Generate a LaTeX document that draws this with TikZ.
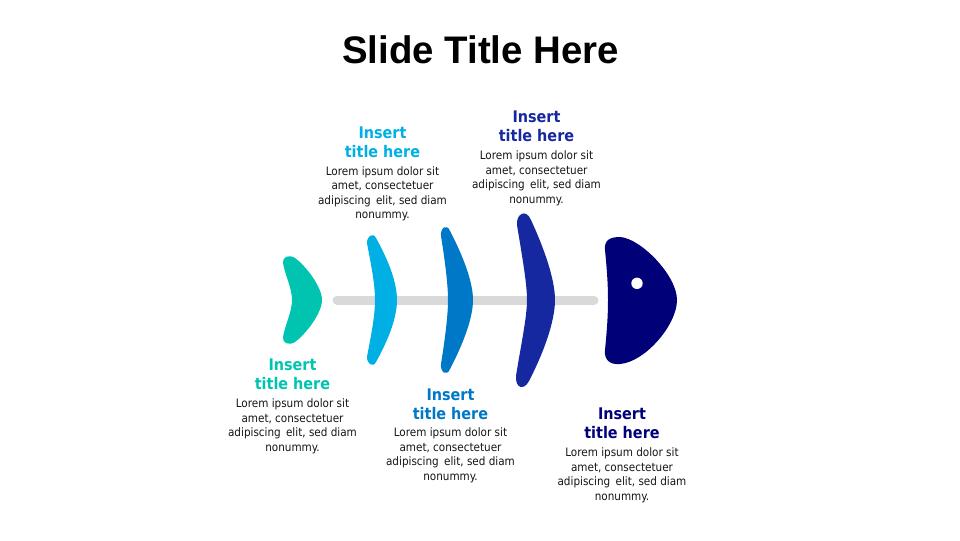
\documentclass[tikz,border=0pt]{standalone}
\usepackage{fontspec}
\setmainfont{DejaVu Sans Condensed}
\newfontfamily\titlefont{Liberation Sans}
\definecolor{cteal}{RGB}{0,196,176}
\definecolor{clight}{RGB}{0,176,228}
\definecolor{cmid}{RGB}{0,120,200}
\definecolor{croyal}{RGB}{22,40,160}
\definecolor{cnavy}{RGB}{0,0,120}
\definecolor{cspine}{RGB}{217,217,217}
\definecolor{cbody}{RGB}{20,20,20}
\tikzset{
  hd/.style={anchor=north,inner sep=0pt,align=center,font=\fontsize{12}{14.25}\selectfont\bfseries},
  bd/.style={anchor=north,inner sep=0pt,align=center,text=cbody,font=\fontsize{8.7}{10.9}\selectfont},
  spine/.style={line width=6.75pt,line cap=round,draw=cspine}
}
\begin{document}
\begin{tikzpicture}[x=0.75pt,y=-0.75pt]
\useasboundingbox (0,0) rectangle (960,540);
% title
\node[anchor=base,inner sep=0pt,font=\titlefont\fontsize{28.8}{32}\selectfont\bfseries] (title) at (480.5,63.5) {Slide Title Here};
% spine
\coordinate (sp1) at (337,300);
\coordinate (sp2) at (594,300);
\draw[spine] (sp1) -- (sp2);
% teal fin
\fill[cteal] (283,263) .. controls (282,257) and (289,254) .. (295,258)
  .. controls (306,266) and (322,287) .. (322,300)
  .. controls (322,313) and (306,334) .. (295,342)
  .. controls (289,346) and (282,343) .. (283,337)
  .. controls (285,325) and (292,312) .. (292,300)
  .. controls (292,288) and (285,275) .. (283,263) -- cycle;
% light blue fin
\fill[clight] (367,243) .. controls (367,236) and (373,232) .. (376,238)
  .. controls (386,256) and (397,280) .. (397,300)
  .. controls (397,320) and (386,344) .. (376,362)
  .. controls (373,368) and (367,364) .. (367,357)
  .. controls (370,340) and (375,318) .. (375,300)
  .. controls (375,282) and (370,260) .. (367,243) -- cycle;
% mid blue fin
\fill[cmid] (441,236) .. controls (440,228) and (447,223) .. (450,231)
  .. controls (461,252) and (473,280) .. (473,300)
  .. controls (473,320) and (461,348) .. (450,369)
  .. controls (447,377) and (440,372) .. (441,364)
  .. controls (444,345) and (448,318) .. (448,300)
  .. controls (448,282) and (444,255) .. (441,236) -- cycle;
% royal blue fin
\fill[croyal] (517,225) .. controls (516,214) and (526,208) .. (531,220)
  .. controls (543,246) and (555,278) .. (555,300)
  .. controls (555,322) and (543,354) .. (529,381)
  .. controls (524,391) and (515,388) .. (516,376)
  .. controls (520,350) and (527,318) .. (527,300)
  .. controls (527,282) and (521,250) .. (517,225) -- cycle;
% head
\fill[cnavy] (605,250) .. controls (604,240) and (610,237) .. (620,237)
  .. controls (640,238) and (677,275) .. (677,300)
  .. controls (677,325) and (645,362) .. (620,364)
  .. controls (610,365) and (604,360) .. (605,350)
  .. controls (607,330) and (608,315) .. (608,300)
  .. controls (608,285) and (607,270) .. (605,250) -- cycle;
\fill[white] (637,283.3) circle[radius=5.7];
% texts
\node[hd,text=cteal] (t1) at (292.5,359) {Insert\\title here};
\node[bd] (b1) at (292.5,398.5) {Lorem ipsum dolor sit\\amet, consectetuer\\adipiscing\hspace{0.45em}elit, sed diam\\nonummy.};
\node[hd,text=clight] (t2) at (382.5,127) {Insert\\title here};
\node[bd] (b2) at (382.5,166) {Lorem ipsum dolor sit\\amet, consectetuer\\adipiscing\hspace{0.45em}elit, sed diam\\nonummy.};
\node[hd,text=cmid] (t3) at (450.5,389) {Insert\\title here};
\node[bd] (b3) at (450.5,427.5) {Lorem ipsum dolor sit\\amet, consectetuer\\adipiscing\hspace{0.45em}elit, sed diam\\nonummy.};
\node[hd,text=croyal] (t4) at (536.5,111) {Insert\\title here};
\node[bd] (b4) at (536.5,150.5) {Lorem ipsum dolor sit\\amet, consectetuer\\adipiscing\hspace{0.45em}elit, sed diam\\nonummy.};
\node[hd,text=cnavy] (t5) at (622,408) {Insert\\title here};
\node[bd] (b5) at (622,447.5) {Lorem ipsum dolor sit\\amet, consectetuer\\adipiscing\hspace{0.45em}elit, sed diam\\nonummy.};
\end{tikzpicture}
\end{document}
